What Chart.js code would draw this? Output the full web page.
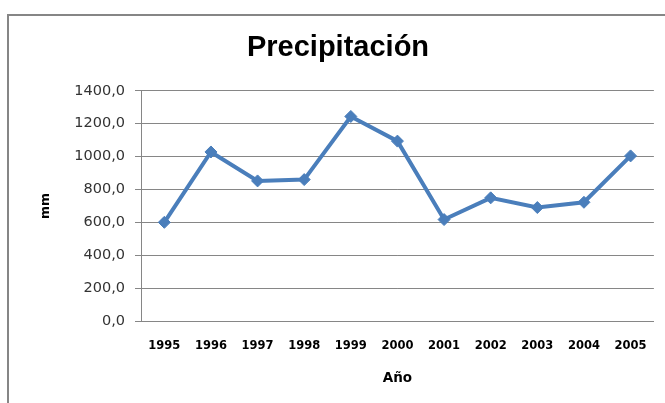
<!DOCTYPE html>
<html>
<head>
<meta charset="utf-8">
<script src="https://cdn.jsdelivr.net/npm/chart.js@4.4.1/dist/chart.umd.min.js"></script>
<style>
html,body{margin:0;padding:0;background:#fff;}
#wrap{position:relative;width:665px;height:403px;}
</style>
</head>
<body>
<div id="wrap"><canvas id="c" width="665" height="403"></canvas></div>
<script>
const years = ['1995','1996','1997','1998','1999','2000','2001','2002','2003','2004','2005'];
const precipitation = [600, 1028, 852, 860, 1244, 1094, 617, 749, 690, 722, 1004];
const yTicks = [0, 200, 400, 600, 800, 1000, 1200, 1400];
const chartTitle = 'Precipitación';
const xTitle = 'Año';
const yTitle = 'mm';

const framePlugin = {
  id: 'frame',
  beforeDraw(chart) {
    const ctx = chart.ctx;
    ctx.save();
    ctx.strokeStyle = '#868686';
    ctx.lineWidth = 2;
    ctx.beginPath();
    ctx.moveTo(8, 403);
    ctx.lineTo(8, 15);
    ctx.lineTo(665, 15);
    ctx.stroke();
    ctx.restore();
  }
};

new Chart(document.getElementById('c'), {
  type: 'line',
  data: {
    labels: years,
    datasets: [{
      label: 'Precipitación',
      data: precipitation,
      borderColor: '#4A7EBB',
      backgroundColor: '#4A7EBB',
      borderWidth: 4,
      pointStyle: 'rectRot',
      pointRadius: 6,
      pointHoverRadius: 6,
      pointBorderWidth: 1,
      tension: 0
    }]
  },
  options: {
    responsive: false,
    animation: false,
    layout: { padding: { left: 20, right: 9, top: 0, bottom: 0 } },
    plugins: {
      legend: { display: false },
      tooltip: { enabled: false },
      title: {
        display: true,
        text: chartTitle,
        color: '#000',
        font: { family: 'Liberation Sans', size: 29, weight: 'bold' },
        padding: { top: 31, bottom: 25 }
      }
    },
    scales: {
      x: {
        offset: true,
        grid: { display: false, drawTicks: false, tickLength: 0 },
        border: { display: true, color: '#868686', width: 1 },
        ticks: {
          color: '#000',
          font: { family: 'DejaVu Sans', size: 11.5, weight: 'bold' },
          padding: 18,
          maxRotation: 0,
          autoSkip: false
        },
        title: {
          display: true,
          text: xTitle,
          color: '#000',
          font: { family: 'DejaVu Sans', size: 13.5, weight: 'bold' },
          padding: { top: 0, bottom: 16 }
        }
      },
      y: {
        min: 0,
        max: 1400,
        afterBuildTicks(scale) { scale.ticks = yTicks.map(v => ({ value: v })); },
        afterFit(scale) { scale.width = 121; },
        grid: { color: '#868686', lineWidth: 1, tickLength: 6, drawTicks: true },
        border: { display: true, color: '#868686', width: 1 },
        ticks: {
          color: '#333',
          font: { family: 'DejaVu Sans', size: 14.5 },
          padding: 10,
          callback: v => Number(v).toFixed(1).replace('.', ',')
        },
        title: {
          display: true,
          text: yTitle,
          color: '#000',
          font: { family: 'DejaVu Sans', size: 12.5, weight: 'bold' },
          padding: { top: 18, bottom: 0 }
        }
      }
    }
  },
  plugins: [framePlugin]
});
</script>
</body>
</html>
